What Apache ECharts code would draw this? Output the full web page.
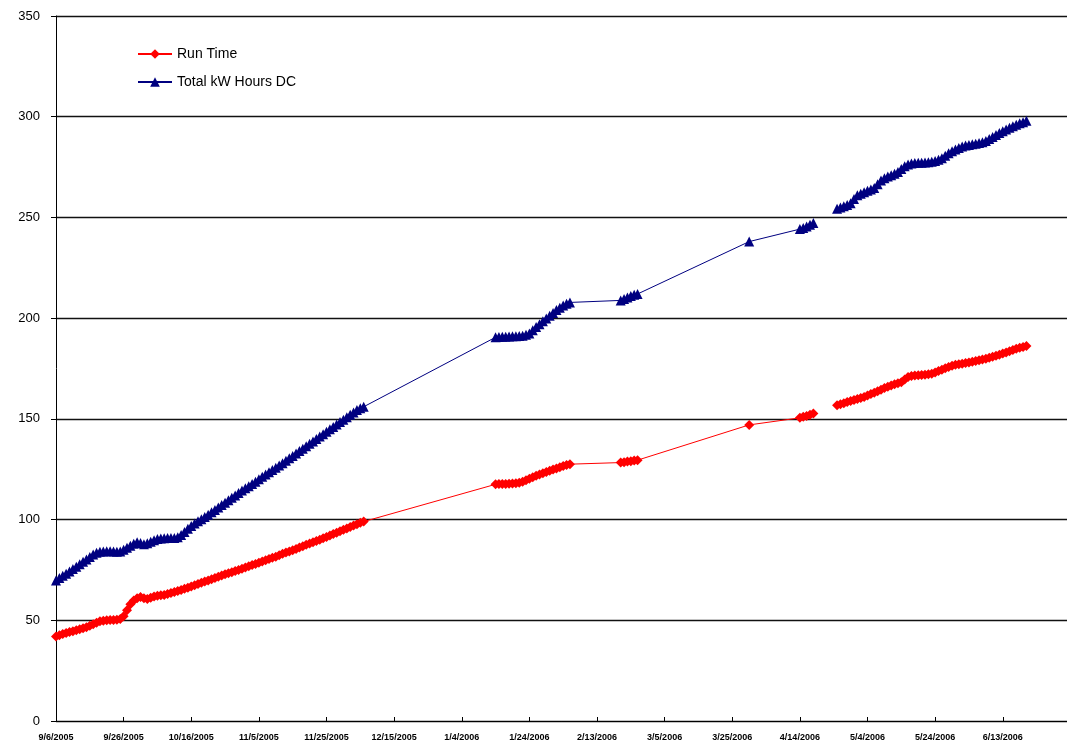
<!DOCTYPE html>
<html>
<head>
<meta charset="utf-8">
<script src="https://cdn.jsdelivr.net/npm/echarts@6/dist/echarts.min.js"></script>
<style>
html,body{margin:0;padding:0;background:#fff;}
#chart{width:1067px;height:750px;}
</style>
</head>
<body>
<div id="chart"></div>
<script>
// x tick labels (every 20 days starting 9/6/2005)
const xTickLabels = ['9/6/2005','9/26/2005','10/16/2005','11/5/2005','11/25/2005','12/15/2005','1/4/2006','1/24/2006','2/13/2006','3/5/2006','3/25/2006','4/14/2006','5/4/2006','5/24/2006','6/13/2006'];
const yTicks = [0, 50, 100, 150, 200, 250, 300, 350];

// first day (days since 9/6/2005) of each block of daily readings
const segStartDays = [0, 130, 167, 205, 220, 231];
// a gap in the line occurs before this block
const breakBefore = [5];

// Run Time readings per block
const runTime = [
  [42.0,42.6,43.2,43.7,44.2,44.6,45.0,45.5,46.0,46.6,47.3,48.0,48.8,49.5,49.8,50.0,50.1,50.2,50.3,50.6,
   52.0,55.0,58.0,59.8,61.0,61.5,61.0,60.6,61.2,61.8,62.2,62.4,62.6,63.0,63.5,64.0,64.5,65.0,65.6,66.2,
   66.8,67.4,68.0,68.6,69.2,69.8,70.4,71.0,71.6,72.2,72.8,73.4,73.9,74.5,75.0,75.6,76.2,76.8,77.4,78.0,
   78.6,79.2,79.8,80.4,81.0,81.6,82.3,83.0,83.6,84.2,84.8,85.4,86.1,86.8,87.5,88.1,88.7,89.3,90.0,90.7,
   91.4,92.1,92.8,93.5,94.2,94.9,95.6,96.3,97.0,97.7,98.4,99.0],
  [117.5,117.6,117.6,117.7,117.8,117.9,118.0,118.3,118.8,119.5,120.3,121.0,121.7,122.4,123.0,123.6,124.2,
   124.8,125.4,126.0,126.6,127.1,127.5],
  [128.3,128.5,128.8,129.0,129.3,129.5],
  [147.0],
  [150.5,151.0,151.4,152.0,152.6],
  [156.8,157.3,157.8,158.4,158.9,159.3,159.8,160.3,160.9,161.6,162.3,163.0,163.7,164.5,165.3,166.0,166.6,
   167.2,167.7,168.2,169.5,170.8,171.3,171.5,171.7,171.8,171.9,172.1,172.4,173.0,173.7,174.4,175.1,175.8,
   176.4,176.8,177.1,177.4,177.7,178.0,178.3,178.7,179.1,179.5,179.9,180.3,180.8,181.3,181.8,182.4,183.0,
   183.6,184.2,184.8,185.3,185.7,186.2]
];

// Total kW Hours DC readings per block
const kwhTotal = [
  [69.8,71.0,72.1,73.1,74.2,75.4,76.6,77.8,79.0,80.2,81.4,82.6,83.5,84.0,84.2,84.3,84.3,84.2,84.0,84.2,
   85.0,86.0,87.0,88.0,88.8,88.4,87.8,88.3,89.0,89.7,90.3,90.6,90.7,90.8,90.8,90.9,91.2,92.3,93.8,95.4,
   96.8,98.0,99.2,100.2,101.3,102.4,103.6,104.8,106.0,107.2,108.4,109.6,110.8,112.0,113.2,114.4,115.5,116.6,
   117.7,118.8,120.0,121.2,122.4,123.5,124.6,125.7,126.8,128.0,129.2,130.4,131.6,132.8,134.0,135.2,136.4,
   137.6,138.8,140.0,141.2,142.4,143.6,144.8,146.0,147.2,148.4,149.6,150.8,152.0,153.2,154.4,155.3,156.0],
  [190.5,190.7,190.8,190.8,190.9,191.0,191.0,191.1,191.3,191.7,192.4,194.0,195.6,197.0,198.4,199.8,201.2,
   202.6,204.0,205.2,206.3,207.2,207.8],
  [208.8,209.5,210.2,211.0,211.6,212.0],
  [238.0],
  [244.2,244.8,245.5,246.4,247.2],
  [254.3,254.9,255.5,256.2,257.0,259.2,261.0,261.8,262.5,263.2,263.9,264.6,266.5,268.3,269.5,270.3,271.0,
   271.7,272.6,274.0,275.4,276.3,276.8,277.0,277.1,277.2,277.3,277.4,277.6,278.0,278.6,279.4,280.6,281.8,
   282.8,283.7,284.5,285.2,285.7,286.0,286.3,286.6,286.9,287.3,288.0,288.9,289.9,290.9,291.9,292.8,293.7,
   294.5,295.3,296.0,296.7,297.3,298.0]
];

function buildData(segs) {
  const out = [];
  segs.forEach((vals, s) => {
    if (breakBefore.includes(s)) out.push([segStartDays[s] - 3, null]);
    vals.forEach((v, i) => out.push([segStartDays[s] + i, v]));
  });
  return out;
}

const chart = echarts.init(document.getElementById('chart'), null, {renderer: 'canvas'});
const FONT = '"Liberation Sans", Arial, sans-serif';
chart.setOption({
  animation: false,
  backgroundColor: '#ffffff',
  grid: {left: 56, right: 0, top: 16, bottom: 29, containLabel: false},
  legend: {
    orient: 'vertical',
    left: 132, top: 42,
    itemWidth: 34, itemHeight: 12, itemGap: 14,
    textStyle: {fontFamily: FONT, fontSize: 14, color: '#000'},
    data: ['Run Time', 'Total kW Hours DC']
  },
  xAxis: {
    type: 'value',
    min: 0, max: 299, interval: 20,
    axisLine: {show: true, lineStyle: {color: '#000', width: 1}},
    axisTick: {show: true, inside: true, length: 4, lineStyle: {color: '#000'}},
    splitLine: {show: false},
    axisLabel: {
      showMaxLabel: false,
      fontFamily: FONT, fontSize: 9, fontWeight: 'bold', color: '#000', margin: 12,
      formatter: v => (v % 20 === 0 && v / 20 < xTickLabels.length) ? xTickLabels[v / 20] : ''
    }
  },
  yAxis: {
    type: 'value',
    min: yTicks[0], max: yTicks[yTicks.length - 1], interval: 50,
    axisLine: {show: true, lineStyle: {color: '#000', width: 1}},
    axisTick: {show: true, length: 5, lineStyle: {color: '#000'}},
    splitLine: {show: true, lineStyle: {color: '#111', width: 1.4}},
    axisLabel: {fontFamily: FONT, fontSize: 13, color: '#000', margin: 16}
  },
  series: [
    {
      name: 'Run Time', type: 'line',
      data: buildData(runTime),
      connectNulls: false,
      symbol: 'diamond', symbolSize: 10, showAllSymbol: true,
      itemStyle: {color: '#ff0000'},
      lineStyle: {color: '#ff0000', width: 1}
    },
    {
      name: 'Total kW Hours DC', type: 'line',
      data: buildData(kwhTotal),
      connectNulls: false,
      symbol: 'triangle', symbolSize: 10, showAllSymbol: true,
      itemStyle: {color: '#000080'},
      lineStyle: {color: '#000080', width: 1}
    }
  ]
});
</script>
</body>
</html>
